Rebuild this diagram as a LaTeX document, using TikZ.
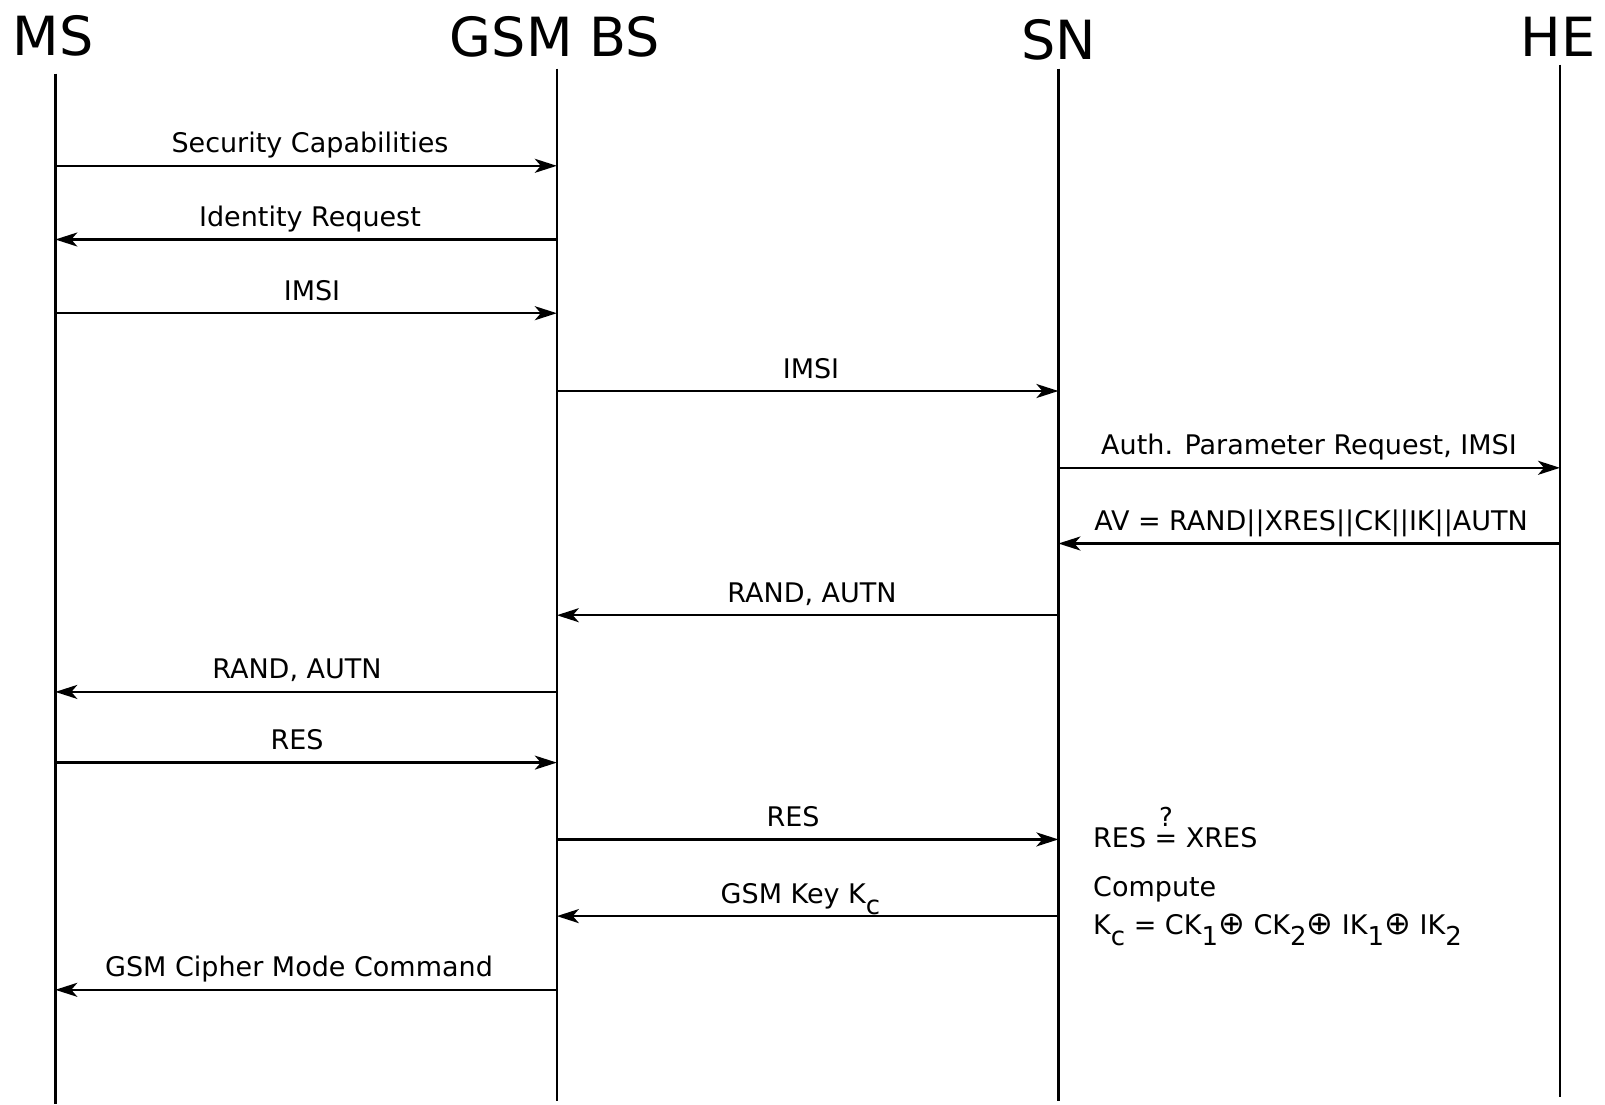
\documentclass[tikz,border=0pt]{standalone}
\usepackage{fontspec}
\setmainfont{DejaVu Sans}
\usetikzlibrary{arrows.meta}

% lowered subscript in the text font
\newcommand{\lowsub}[1]{\raisebox{-0.42em}{\fontsize{26}{26}\selectfont #1}}
% exclusive-or sign, a little larger than the text
\newcommand{\xorsign}{{\fontsize{32}{32}\selectfont ⊕}}
% "=" with a question mark above it
\newcommand{\queq}{\ooalign{=\cr\hidewidth\raisebox{0.78em}{\fontsize{26}{26}\selectfont ?}\hidewidth\cr}}

\tikzset{
  lifeline/.style={line width=2.5pt},
  msg/.style={line width=2.4pt,-{Stealth[length=22pt,width=14pt,inset=6pt]}},
  lbl/.style={anchor=base,inner sep=0pt,font=\fontsize{27}{32}\selectfont},
  title/.style={anchor=base,inner sep=0pt,font=\fontsize{54}{60}\selectfont},
  note/.style={anchor=base west,inner sep=0pt,font=\fontsize{27}{32}\selectfont}
}

\begin{document}
\begin{tikzpicture}[x=1pt,y=-1pt]
\useasboundingbox (0,0) rectangle (1605,1104);

% participants
\node[title] (tMS) at (53,55) {MS};
\node[title] (tBS) at (555,56) {GSM BS};
\node[title] (tSN) at (1059,59) {SN};
\node[title] (tHE) at (1558,56) {HE};

% lifelines
\coordinate (MS) at (55.3,73.7);  \coordinate (MSe) at (55.3,1104);
\coordinate (BS) at (556.8,68.6); \coordinate (BSe) at (556.8,1101);
\coordinate (SN) at (1058.4,68.6);\coordinate (SNe) at (1058.4,1101);
\coordinate (HE) at (1560,64.5);  \coordinate (HEe) at (1560,1097);
\draw[lifeline] (MS) -- (MSe);
\draw[lifeline] (BS) -- (BSe);
\draw[lifeline] (SN) -- (SNe);
\draw[lifeline] (HE) -- (HEe);

% messages
\draw[msg] (MS |- 0,165.8) -- (BS |- 0,165.8);
\node[lbl] (m1) at (310,152.5) {Security Capabilities};

\draw[msg] (BS |- 0,239.5) -- (MS |- 0,239.5);
\node[lbl] (m2) at (310,226.5) {Identity Request};

\draw[msg] (MS |- 0,313.2) -- (BS |- 0,313.2);
\node[lbl] (m3) at (312,300.2) {IMSI};

\draw[msg] (BS |- 0,391.0) -- (SN |- 0,391.0);
\node[lbl] (m4) at (811,378) {IMSI};

\draw[msg] (SN |- 0,467.8) -- (HE |- 0,467.8);
\node[lbl] (m5) at (1309,454.8) {Auth. Parameter Request, IMSI};

\draw[msg] (HE |- 0,543.5) -- (SN |- 0,543.5);
\node[lbl] (m6) at (1311,530.5) {AV = RAND||XRES||CK||IK||AUTN};

\draw[msg] (SN |- 0,615.2) -- (BS |- 0,615.2);
\node[lbl] (m7) at (812,602.2) {RAND, AUTN};

\draw[msg] (BS |- 0,691.9) -- (MS |- 0,691.9);
\node[lbl] (m8) at (297,678.9) {RAND, AUTN};

\draw[msg] (MS |- 0,762.6) -- (BS |- 0,762.6);
\node[lbl] (m9) at (297,749.6) {RES};

\draw[msg] (BS |- 0,839.4) -- (SN |- 0,839.4);
\node[lbl] (m10) at (793,826.4) {RES};

\draw[msg] (SN |- 0,916.1) -- (BS |- 0,916.1);
\node[note] (m11) at (720.5,903.1) {GSM Key K\lowsub{c}};

\draw[msg] (BS |- 0,989.8) -- (MS |- 0,989.8);
\node[lbl] (m12) at (299,976.8) {GSM Cipher Mode Command};

% checks at the serving network
\node[note] (n1) at (1093,847.6) {RES \queq{} XRES};
\node[note] (n2) at (1093,896.7) {Compute};
\node[note] (n3) at (1093,934.6) {K\lowsub{c} = CK\lowsub{1}\xorsign{} CK\lowsub{2}\xorsign{} IK\lowsub{1}\xorsign{} IK\lowsub{2}};
\end{tikzpicture}
\end{document}
